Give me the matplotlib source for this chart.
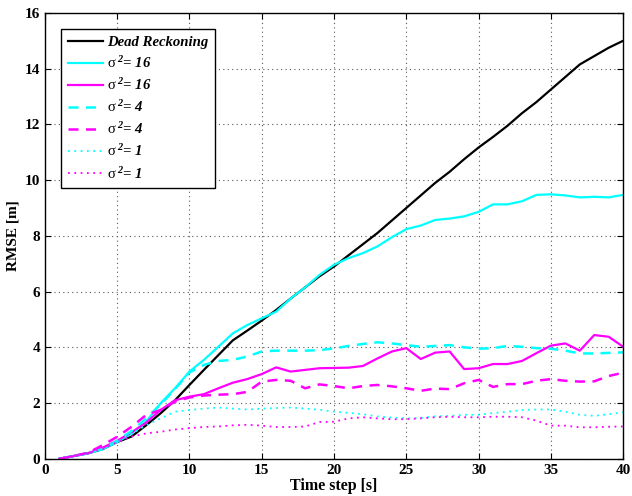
import numpy as np
import matplotlib
matplotlib.use("Agg")
import matplotlib.pyplot as plt

plt.rcParams['font.family'] = 'Liberation Serif'
plt.rcParams['font.weight'] = 'bold'
plt.rcParams['mathtext.fontset'] = 'custom'
plt.rcParams['mathtext.rm'] = 'Liberation Serif:italic:bold'
plt.rcParams['mathtext.it'] = 'Liberation Serif:italic:bold'
plt.rcParams['mathtext.bf'] = 'Liberation Serif:italic:bold'
plt.rcParams['mathtext.sf'] = 'Liberation Serif:normal'

t = np.arange(1, 41)

dead_reckoning = [0.0, 0.1, 0.2, 0.35, 0.6, 0.8, 1.2, 1.63, 2.1, 2.65,
                  3.19, 3.72, 4.25, 4.6, 4.96, 5.34, 5.75, 6.15, 6.55, 6.9,
                  7.3, 7.7, 8.1, 8.55, 9.0, 9.45, 9.9, 10.3, 10.75, 11.17,
                  11.55, 11.95, 12.4, 12.8, 13.25, 13.7, 14.15, 14.45, 14.75, 15.0]

cyan_16 = [0.0, 0.1, 0.2, 0.35, 0.6, 0.91, 1.33, 1.99, 2.53, 3.13,
           3.55, 4.02, 4.5, 4.8, 5.04, 5.28, 5.75, 6.15, 6.6, 6.96,
           7.2, 7.38, 7.62, 7.95, 8.24, 8.37, 8.57, 8.62, 8.7, 8.86,
           9.13, 9.13, 9.24, 9.47, 9.49, 9.45, 9.38, 9.4, 9.38, 9.47]

magenta_16 = [0.0, 0.1, 0.2, 0.4, 0.65, 0.95, 1.3, 1.75, 2.1, 2.23,
              2.32, 2.53, 2.73, 2.86, 3.04, 3.28, 3.13, 3.19, 3.25, 3.26,
              3.27, 3.33, 3.6, 3.85, 3.97, 3.58, 3.81, 3.85, 3.22, 3.25,
              3.4, 3.4, 3.51, 3.79, 4.06, 4.14, 3.88, 4.44, 4.38, 4.02]

cyan_4 = [0.0, 0.1, 0.2, 0.35, 0.65, 1.0, 1.45, 1.95, 2.5, 3.1,
          3.37, 3.51, 3.55, 3.67, 3.85, 3.88, 3.88, 3.88, 3.9, 3.96,
          4.05, 4.12, 4.18, 4.14, 4.08, 4.02, 4.05, 4.08, 4.0, 3.95,
          3.97, 4.05, 4.02, 3.97, 3.95, 3.88, 3.78, 3.78, 3.8, 3.82]

magenta_4 = [0.0, 0.1, 0.22, 0.49, 0.79, 1.15, 1.57, 1.75, 2.05, 2.2,
             2.27, 2.3, 2.32, 2.4, 2.77, 2.83, 2.8, 2.53, 2.67, 2.61,
             2.53, 2.61, 2.65, 2.6, 2.53, 2.44, 2.52, 2.5, 2.71, 2.83,
             2.58, 2.68, 2.68, 2.8, 2.86, 2.8, 2.77, 2.78, 2.97, 3.09]

cyan_1 = [0.0, 0.1, 0.2, 0.35, 0.6, 0.9, 1.2, 1.45, 1.69, 1.75,
          1.8, 1.84, 1.8, 1.77, 1.8, 1.82, 1.84, 1.8, 1.76, 1.69,
          1.65, 1.6, 1.52, 1.48, 1.45, 1.47, 1.52, 1.54, 1.58, 1.58,
          1.64, 1.69, 1.75, 1.77, 1.77, 1.69, 1.58, 1.54, 1.6, 1.67]

magenta_1 = [0.0, 0.1, 0.2, 0.35, 0.6, 0.8, 0.91, 0.97, 1.05, 1.1,
             1.14, 1.16, 1.2, 1.22, 1.19, 1.14, 1.14, 1.16, 1.32, 1.33,
             1.45, 1.49, 1.45, 1.42, 1.42, 1.45, 1.49, 1.51, 1.49, 1.49,
             1.51, 1.51, 1.49, 1.37, 1.19, 1.19, 1.13, 1.13, 1.15, 1.16]


def sigma_label(v):
    # upright sigma, bold italic exponent and value
    return r'$\mathsf{\sigma}^{\;2}$= ' + str(v)


fig, ax = plt.subplots(figsize=(6.32, 4.96), dpi=100)
fig.subplots_adjust(left=0.071, right=0.986, bottom=0.075, top=0.974)

ax.plot(t, dead_reckoning, color='black', lw=1.6, label='Dead Reckoning')
ax.plot(t, cyan_16, color='cyan', lw=1.6, label=sigma_label(16))
ax.plot(t, magenta_16, color='magenta', lw=1.6, label=sigma_label(16))
ax.plot(t, cyan_4, color='cyan', lw=1.8, ls=(0, (4, 3)), label=sigma_label(4))
ax.plot(t, magenta_4, color='magenta', lw=1.8, ls=(0, (4, 3)), label=sigma_label(4))
ax.plot(t, cyan_1, color='cyan', lw=1.3, ls=(0, (1, 2.5)), label=sigma_label(1))
ax.plot(t, magenta_1, color='magenta', lw=1.3, ls=(0, (1, 2.5)), label=sigma_label(1))

ax.set_xlim(0, 40)
ax.set_ylim(0, 16)
ax.set_xticks(range(0, 41, 5))
ax.set_yticks(range(0, 17, 2))
ax.tick_params(direction='in', top=True, right=True, labelsize=11, length=4)
for lbl in ax.get_xticklabels() + ax.get_yticklabels():
    lbl.set_fontweight('bold')
ax.grid(True, ls=(0, (1, 3)), color='0.35', lw=0.8)
for sp in ax.spines.values():
    sp.set_linewidth(1.0)

ax.set_xlabel('Time step [s]', fontsize=11.5, fontweight='bold', labelpad=1)
ax.set_ylabel('RMSE [m]', fontsize=11, fontweight='bold', labelpad=4)

leg = ax.legend(loc='upper left', prop={'size': 10.6, 'weight': 'bold', 'style': 'italic'},
                fancybox=False, edgecolor='black', framealpha=1, borderaxespad=1.1,
                handlelength=2.4, handletextpad=0.3, labelspacing=0.42, borderpad=0.45)
leg.get_frame().set_linewidth(1.0)

fig.savefig('out.png', dpi=100)
